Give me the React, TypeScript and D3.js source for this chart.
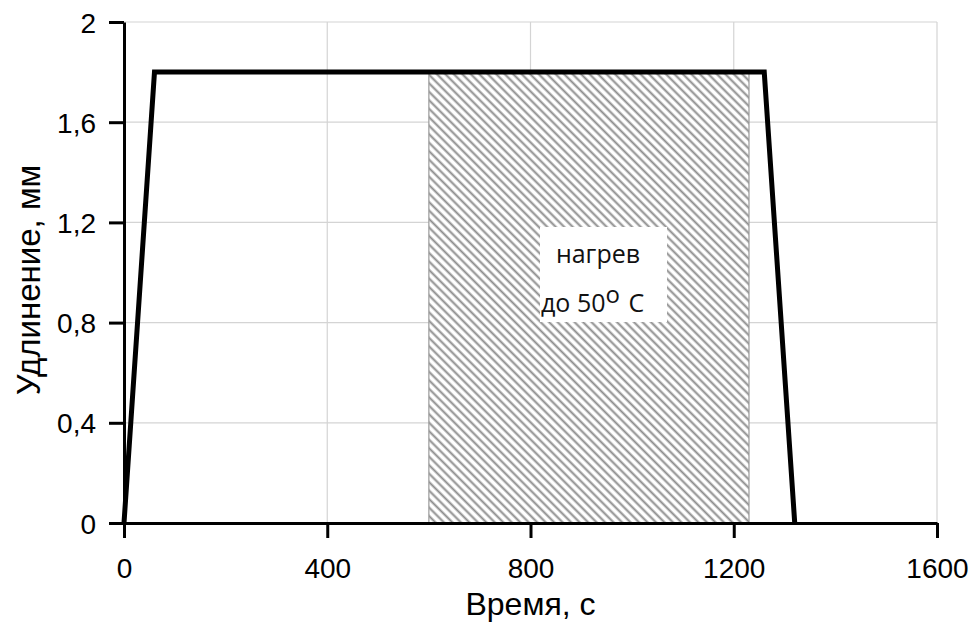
import React, { useEffect, useRef } from "react";
import * as d3 from "d3";

// time (s) and elongation (mm) of the loading curve
const timeValues = [0, 60, 1260, 1320];
const elongValues = [0, 1.8, 1.8, 0];
// heating interval
const heatStart = 600;
const heatEnd = 1230;
const heatLevel = 1.8;
const heatLabel = ["нагрев", "до 50"];

const xTicks = [0, 400, 800, 1200, 1600];
const yTicks = [0, 0.4, 0.8, 1.2, 1.6, 2];

const W = 974;
const H = 624;

export default function App() {
  const ref = useRef<SVGSVGElement>(null);

  useEffect(() => {
    const svg = d3.select(ref.current);
    svg.selectAll("*").remove();

    const x = d3.scaleLinear().domain([0, 1600]).range([124, 937]);
    const y = d3.scaleLinear().domain([0, 2]).range([523, 22]);

    const defs = svg.append("defs");
    const pat = defs.append("pattern")
      .attr("id", "hatch")
      .attr("patternUnits", "userSpaceOnUse")
      .attr("width", 6)
      .attr("height", 6)
      .attr("patternTransform", "rotate(45)");
    pat.append("rect").attr("width", 6).attr("height", 6).attr("fill", "#fff");
    pat.append("line")
      .attr("x1", 0).attr("y1", 1.5).attr("x2", 6).attr("y2", 1.5)
      .attr("stroke", "#8c8c8c").attr("stroke-width", 2);

    // grid
    const grid = svg.append("g");
    grid.selectAll("line.h")
      .data(yTicks.filter(d => d > 0))
      .enter().append("line")
      .attr("x1", x(0)).attr("x2", x(1600))
      .attr("y1", d => y(d)).attr("y2", d => y(d))
      .attr("stroke", "#d4d4d4").attr("stroke-width", 1.2);
    grid.selectAll("line.v")
      .data(xTicks.filter(d => d > 0))
      .enter().append("line")
      .attr("x1", d => x(d)).attr("x2", d => x(d))
      .attr("y1", y(0)).attr("y2", y(2))
      .attr("stroke", "#d4d4d4").attr("stroke-width", 1.2);

    // heating area
    svg.append("rect")
      .attr("x", x(heatStart))
      .attr("y", y(heatLevel))
      .attr("width", x(heatEnd) - x(heatStart))
      .attr("height", y(0) - y(heatLevel))
      .attr("fill", "url(#hatch)")
      .attr("stroke", "#9a9a9a")
      .attr("stroke-width", 1.2);

    // label box
    svg.append("rect")
      .attr("x", 540).attr("y", 227)
      .attr("width", 127).attr("height", 95)
      .attr("fill", "#fff");
    const lbl = svg.append("g")
      .attr("font-family", "'Open Sans', 'Noto Sans', sans-serif")
      .attr("font-size", 25)
      .attr("fill", "#111");
    lbl.append("text")
      .attr("x", 598).attr("y", 263)
      .attr("text-anchor", "middle")
      .text(heatLabel[0]);
    const t2 = lbl.append("text")
      .attr("x", 541).attr("y", 312);
    t2.append("tspan").text(heatLabel[1]);
    t2.append("tspan").attr("dy", -9).attr("font-size", 24).text("о");
    t2.append("tspan").attr("dy", 9).attr("dx", 2).text(" С");

    // curve
    const line = d3.line<number>()
      .x((_, i) => x(timeValues[i]))
      .y(d => y(d));
    svg.append("path")
      .datum(elongValues)
      .attr("d", line)
      .attr("fill", "none")
      .attr("stroke", "#000")
      .attr("stroke-width", 5)
      .attr("stroke-linejoin", "miter");

    // axes
    const axisFont = "'Liberation Sans', Arial, sans-serif";
    const xAxis = svg.append("g")
      .attr("transform", `translate(0,${y(0)})`)
      .call(d3.axisBottom(x).tickValues(xTicks).tickSize(15).tickSizeOuter(0).tickFormat(d3.format("d")));
    xAxis.select(".domain").attr("stroke", "#000").attr("stroke-width", 3);
    xAxis.selectAll(".tick line").attr("stroke", "#000").attr("stroke-width", 3);
    xAxis.selectAll(".tick text")
      .attr("font-family", axisFont).attr("font-size", 28)
      .attr("fill", "#000").attr("y", 55).attr("dy", null);

    const yAxis = svg.append("g")
      .attr("transform", `translate(${x(0)},0)`)
      .call(d3.axisLeft(y).tickValues(yTicks).tickSize(15).tickSizeOuter(0)
        .tickFormat(d => d3.format("")(d as number).replace(".", ",")));
    yAxis.select(".domain").attr("stroke", "#000").attr("stroke-width", 3);
    yAxis.selectAll(".tick line").attr("stroke", "#000").attr("stroke-width", 3);
    yAxis.selectAll(".tick text")
      .attr("font-family", axisFont).attr("font-size", 28)
      .attr("fill", "#000").attr("x", -28).attr("dy", "0.36em");

    svg.append("text")
      .attr("x", x(800)).attr("y", 615)
      .attr("text-anchor", "middle")
      .attr("font-family", axisFont).attr("font-size", 32)
      .text("Время, с");
    svg.append("text")
      .attr("transform", `translate(40,${y(0.97)}) rotate(-90)`)
      .attr("text-anchor", "middle")
      .attr("font-family", axisFont).attr("font-size", 33)
      .text("Удлинение, мм");
  }, []);

  return (
    <svg ref={ref} width={W} height={H}
      style={{ position: "absolute", left: 0, top: 0, background: "#fff" }} />
  );
}
